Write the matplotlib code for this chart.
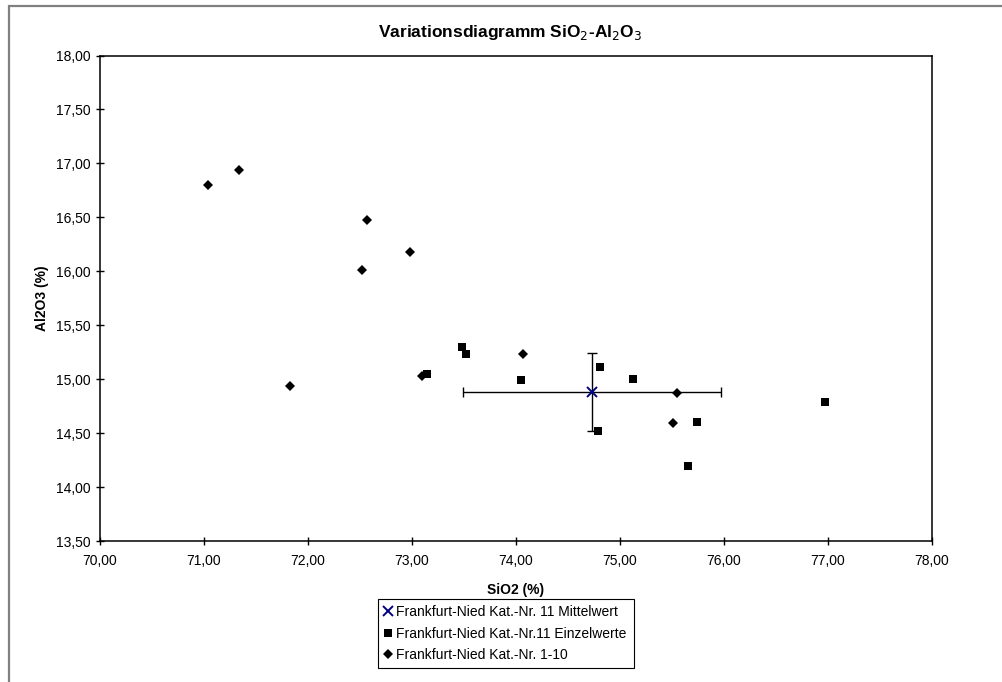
import numpy  as np
import matplotlib
matplotlib.use('Agg')
import matplotlib.pyplot as plt
from matplotlib.patches import Rectangle
from matplotlib.ticker import FuncFormatter

# DATA:
# ==================================================================
# FRANKFURT-NIED KAT.-NR. 1-10:
SIO2_1_10  = [71.04, 71.34, 72.57, 72.98, 72.52, 71.83, 73.10, 74.07, 75.55, 75.51]
AL2O3_1_10 = [16.80, 16.94, 16.48, 16.18, 16.01, 14.94, 15.03, 15.23, 14.87, 14.59]

# FRANKFURT-NIED KAT.-NR. 11 EINZELWERTE:
SIO2_11  = [73.48, 73.52, 73.14, 74.05, 74.81, 75.12, 74.79, 75.74, 75.65, 76.97]
AL2O3_11 = [15.30, 15.23, 15.05, 14.99, 15.11, 15.00, 14.52, 14.60, 14.20, 14.79]

# KAT.-NR. 11 MITTELWERT AND SPREAD:
SIO2_MEAN  = 74.73
AL2O3_MEAN = 14.88
SIO2_ERR   = 1.24
AL2O3_ERR  = 0.36

LABELS = ['Frankfurt-Nied Kat.-Nr. 11 Mittelwert',
          'Frankfurt-Nied Kat.-Nr.11 Einzelwerte',
          'Frankfurt-Nied Kat.-Nr. 1-10']

# MAKE PLOT:
# ==================================================================
plt.rcParams['font.family'] = ['Liberation Sans', 'DejaVu Sans']
plt.rcParams['font.size'] = 10

fig = plt.figure(figsize=(10.02,6.82), dpi=100)
ax  = fig.add_axes([0.0998, 0.2067, 0.8304, 0.7119])

# CHART BORDER:
fig.patches.append(Rectangle((9/1002., -0.1), 1.2, 1.1-6/682., transform=fig.transFigure,
                             fill=False, edgecolor='#808080', lw=1.6))

# ERROR BARS FIRST:
ax.errorbar(SIO2_MEAN, AL2O3_MEAN, xerr=SIO2_ERR, yerr=AL2O3_ERR, fmt='none',
            ecolor='black', elinewidth=1.0, capsize=3.6, capthick=1.0, zorder=2)

h1, = ax.plot(SIO2_MEAN, AL2O3_MEAN, 'x', color='#000080', ms=7, mew=1.4, ls='none', zorder=4)
h2, = ax.plot(SIO2_11, AL2O3_11, 's', color='black', ms=6.3, mew=0, ls='none', zorder=3)
h3, = ax.plot(SIO2_1_10, AL2O3_1_10, 'D', color='black', ms=5.4, mew=0, ls='none', zorder=3)

# AXES:
ax.set_xlim(70,78)
ax.set_ylim(13.5,18)
ax.set_xticks(np.arange(70,78.01,1))
ax.set_yticks(np.arange(13.5,18.01,0.5))
fmt = FuncFormatter(lambda v,p: ('%.2f'%v).replace('.',','))
ax.xaxis.set_major_formatter(fmt)
ax.yaxis.set_major_formatter(fmt)
ax.tick_params(direction='inout', length=6, width=1, pad=4)
ax.tick_params(axis='x', pad=6)
for s in ax.spines.values():
    s.set_linewidth(1.1)

ax.set_xlabel('SiO2 (%)', fontweight='bold', labelpad=11)
ax.set_ylabel('Al2O3 (%)', fontweight='bold', labelpad=5)

fig.text(510/1002., 1-33/682., 'Variationsdiagramm SiO$_2$-Al$_2$O$_3$',
         ha='center', va='center', fontsize=12.5, fontweight='bold')

# LEGEND:
leg = fig.legend([h1,h2,h3], LABELS, loc='upper left',
                 bbox_to_anchor=(377.7/1002., 1-667.7/682., 256/1002., 69/682.),
                 mode='expand', frameon=True, fancybox=False, framealpha=1,
                 edgecolor='black', handlelength=0.6, handletextpad=0.3,
                 borderpad=0.45, labelspacing=0.55, borderaxespad=0, fontsize=10)
leg.get_frame().set_linewidth(0.8)

fig.savefig('out.png', dpi=100)
